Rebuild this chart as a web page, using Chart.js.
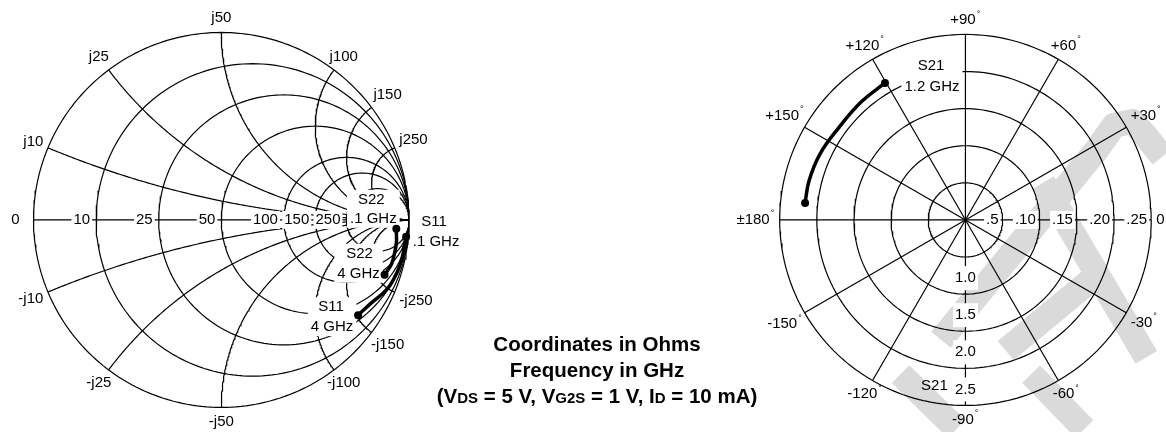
<!DOCTYPE html>
<html>
<head>
<meta charset="utf-8">
<title>S-parameters</title>
<script src="https://cdn.jsdelivr.net/npm/chart.js@4/dist/chart.umd.min.js"></script>
<style>
  body { margin: 0; background: #fff; }
  #wrap { position: relative; width: 1166px; height: 432px; overflow: hidden; background: #fff; }
  #smith { position: absolute; left: 0; top: 0; }
  #polar { position: absolute; left: 700px; top: 0; }
  #note { position: absolute; left: 397px; top: 331px; width: 400px; text-align: center;
          font: bold 20.5px/26px "Liberation Sans", Arial, sans-serif; color: #000; }
  #note span { font-size: 15px; }
</style>
</head>
<body>
<div id="wrap">
  <canvas id="smith" width="480" height="432"></canvas>
  <canvas id="polar" width="466" height="432"></canvas>
  <div id="note">Coordinates in Ohms<br>Frequency in GHz<br>(V<span>DS</span> = 5 V, V<span>G2S</span> = 1 V, I<span>D</span> = 10 mA)</div>
</div>
<script>
const family = '"Liberation Sans", Arial, sans-serif';
Chart.defaults.font.family = family;
Chart.defaults.animation = false;

// smith chart grid, ohms (Z0 = 50)
const z0 = 50;
const resistances = [10, 25, 50, 100, 150, 250];
const reactances = [10, 25, 50, 100, 150, 250];

// S11 / S22 from .1 GHz to 4 GHz : magnitude, angle (deg)
const s11Mag = [0.988, 0.984, 0.984, 0.977, 0.958, 0.912, 0.888];
const s11Ang = [-5.2, -8.3, -11.7, -16.5, -22.5, -29.2, -34.9];
const s22Mag = [0.933, 0.934, 0.940, 0.939, 0.936, 0.917];
const s22Ang = [-2.9, -3.9, -7.3, -11.3, -14.6, -18.6];

// polar chart
const angleTicks = [0, 30, 60, 90, 120, 150, 180, -150, -120, -90, -60, -30];
const s12Labels = ['.5', '.10', '.15', '.20', '.25'];
const s21Rings = [0.5, 1.0, 1.5, 2.0, 2.5];
const s21Labels = ['', '1.0', '1.5', '2.0', '2.5'];

// S21 from .1 GHz to 1.2 GHz
const s21Mag = [2.17, 2.17, 2.15, 2.11, 2.12, 2.14];
const s21Ang = [174, 165.9, 155.6, 144.2, 131.5, 120.4];

const rad = d => d * Math.PI / 180;

function arc(cx, cy, r, a0, a1, n) {
  const pts = [];
  for (let i = 0; i <= n; i++) {
    const a = a0 + (a1 - a0) * i / n;
    pts.push({x: cx + r * Math.cos(a), y: cy + r * Math.sin(a)});
  }
  return pts;
}

function gridLine(data) {
  return {data: data, showLine: true, borderColor: '#000', borderWidth: 1.2,
          pointRadius: 0, tension: 0, fill: false};
}

function trace(label, mag, ang, scale) {
  const n = mag.length;
  return {
    label: label, trace: true,
    data: mag.map((m, i) => ({x: m / scale * Math.cos(rad(ang[i])), y: m / scale * Math.sin(rad(ang[i]))})),
    showLine: true, borderColor: '#000', borderWidth: 3.5, tension: 0.4,
    pointRadius: ctx => (ctx.dataIndex === 0 || ctx.dataIndex === n - 1) ? 4 : 0,
    pointBackgroundColor: '#000', pointBorderWidth: 0
  };
}

function boxText(ctx, txt, x, y, align, padX, halfH) {
  const w = ctx.measureText(txt).width;
  const left = align === 'right' ? x - w : align === 'left' ? x : x - w / 2;
  ctx.fillStyle = '#fff';
  ctx.fillRect(left - padX, y - halfH, w + 2 * padX, 2 * halfH);
  ctx.fillStyle = '#000';
  ctx.textAlign = 'left';
  ctx.fillText(txt, left, y);
}

// two-line note on one white patch, offsets from a trace point
function tagText(ctx, pt, lines) {
  let l = 1e9, r = -1e9;
  lines.forEach(s => {
    const w = ctx.measureText(s[0]).width;
    l = Math.min(l, pt.x + s[1] - w / 2);
    r = Math.max(r, pt.x + s[1] + w / 2);
  });
  const top = pt.y + lines[0][2] - 10, bottom = pt.y + lines[lines.length - 1][2] + 9;
  ctx.fillStyle = '#fff';
  ctx.fillRect(l - 3, top, r - l + 6, bottom - top);
  ctx.fillStyle = '#000';
  ctx.textAlign = 'center';
  lines.forEach(s => ctx.fillText(s[0], pt.x + s[1], pt.y + s[2]));
}

// distance from centre for a label sitting outside the rim
function rimDist(R, w, c, s) {
  const a = Math.abs(c) > 0.01 ? (w / 2) / Math.abs(c) : 1e9;
  const b = Math.abs(s) > 0.01 ? 9 / Math.abs(s) : 1e9;
  return R + 5 + Math.min(a, b);
}

function axes(xmin, xmax, ymin, ymax) {
  return {
    x: {type: 'linear', min: xmin, max: xmax, display: false},
    y: {type: 'linear', min: ymin, max: ymax, display: false}
  };
}

// ---------------- Smith chart ----------------
const smithSets = [trace('S11', s11Mag, s11Ang, 1), trace('S22', s22Mag, s22Ang, 1)];
smithSets.push(gridLine(arc(0, 0, 1, 0, 2 * Math.PI, 240)));
smithSets.push(gridLine([{x: -1, y: 0}, {x: 1, y: 0}]));
resistances.forEach(r => {
  const n = r / z0;
  smithSets.push(gridLine(arc(n / (n + 1), 0, 1 / (n + 1), 0, 2 * Math.PI, 200)));
});
reactances.forEach(x => {
  const n = x / z0;
  const gx = (n * n - 1) / (n * n + 1), gy = 2 * n / (n * n + 1);
  let a0 = Math.atan2(gy - 1 / n, gx - 1);
  if (a0 < 0) a0 += 2 * Math.PI;
  const up = arc(1, 1 / n, 1 / n, a0, 1.5 * Math.PI, 160);
  smithSets.push(gridLine(up));
  smithSets.push(gridLine(up.map(p => ({x: p.x, y: -p.y}))));
});

const smithLabels = {
  id: 'smithLabels',
  beforeDatasetsDraw(chart) { chart.$done = false; },
  beforeDatasetDraw(chart, args) {
    if (chart.$done || !chart.data.datasets[args.index].trace) return;
    chart.$done = true;
    const ctx = chart.ctx, xs = chart.scales.x, ys = chart.scales.y;
    const px = v => xs.getPixelForValue(v), py = v => ys.getPixelForValue(v);
    const cx = px(0), cy = py(0), R = px(1) - px(0);
    ctx.save();
    ctx.font = '15px ' + family;
    ctx.textBaseline = 'middle';
    resistances.forEach(r => {
      const n = r / z0;
      boxText(ctx, String(r), px((n - 1) / (n + 1)) - 6, cy, 'right', 2, 9);
    });
    ctx.textAlign = 'center';
    ctx.fillText('0', px(-1) - 18, cy);
    reactances.forEach(x => {
      const n = x / z0;
      const gx = (n * n - 1) / (n * n + 1), gy = 2 * n / (n * n + 1);
      [1, -1].forEach(s => {
        const txt = (s > 0 ? 'j' : '-j') + x;
        const d = rimDist(R, ctx.measureText(txt).width, gx, gy);
        ctx.textAlign = 'center';
        ctx.fillStyle = '#000';
        ctx.fillText(txt, cx + gx * d, cy - s * gy * d);
      });
    });
    const ends = di => {
      const pts = chart.getDatasetMeta(di).data;
      return [pts[0], pts[pts.length - 1]];
    };
    const s11 = ends(0), s22 = ends(1);
    tagText(ctx, s22[0], [['S22', -25, -29], ['.1 GHz', -23, -10]]);
    tagText(ctx, s22[1], [['S22', -25, -21], ['4 GHz', -26, -1]]);
    tagText(ctx, s11[0], [['S11', 28, -15], ['.1 GHz', 30, 5]]);
    tagText(ctx, s11[1], [['S11', -27, -8], ['4 GHz', -26, 12]]);
    ctx.restore();
  }
};

const sR = 191;
new Chart(document.getElementById('smith'), {
  type: 'scatter',
  data: {datasets: smithSets},
  options: {
    responsive: false, events: [],
    layout: {padding: 0},
    plugins: {legend: {display: false}, tooltip: {enabled: false}},
    scales: axes(-221 / sR, 259 / sR, -212 / sR, 220 / sR)
  },
  plugins: [smithLabels]
});

// ---------------- polar chart ----------------
const s21Max = s21Rings[s21Rings.length - 1];
const polarSets = [trace('S21', s21Mag, s21Ang, s21Max)];
s21Rings.forEach(v => polarSets.push(gridLine(arc(0, 0, v / s21Max, 0, 2 * Math.PI, 200))));
angleTicks.filter(a => a >= 0 && a < 180).forEach(a => {
  const c = Math.cos(rad(a)), s = Math.sin(rad(a));
  polarSets.push(gridLine([{x: -c, y: -s}, {x: c, y: s}]));
});

// faint logo strokes in the background, in chart units
const logo = [
  [[-0.132, -0.646], [0.709, 0.381], [0.80, 0.51], [0.90, 0.53], [0.974, 0.45], [1.06, 0.34]],
  [[0.217, -0.704], [0.698, -0.306]],
  [[0.418, 0.201], [0.974, -0.741]],
  [[-0.349, -0.831], [-0.048, -1.127]],
  [[0.354, -0.831], [0.640, -1.127]]
];

function degLabel(ctx, main, x, y) {
  ctx.font = '15px ' + family;
  const w1 = ctx.measureText(main).width;
  const left = x - (w1 + 5) / 2;
  ctx.fillStyle = '#000';
  ctx.textAlign = 'left';
  ctx.fillText(main, left, y);
  ctx.font = '9px ' + family;
  ctx.fillText('°', left + w1 + 1, y - 6);
  ctx.font = '15px ' + family;
}

const polarLabels = {
  id: 'polarLabels',
  beforeDatasetsDraw(chart) {
    chart.$done = false;
    const ctx = chart.ctx, xs = chart.scales.x, ys = chart.scales.y;
    ctx.save();
    ctx.strokeStyle = '#dadada';
    ctx.lineWidth = 25;
    ctx.lineJoin = 'round';
    logo.forEach(path => {
      ctx.beginPath();
      path.forEach((p, i) => {
        const X = xs.getPixelForValue(p[0]), Y = ys.getPixelForValue(p[1]);
        i ? ctx.lineTo(X, Y) : ctx.moveTo(X, Y);
      });
      ctx.stroke();
    });
    ctx.restore();
  },
  beforeDatasetDraw(chart, args) {
    if (chart.$done || !chart.data.datasets[args.index].trace) return;
    chart.$done = true;
    const ctx = chart.ctx, xs = chart.scales.x, ys = chart.scales.y;
    const px = v => xs.getPixelForValue(v), py = v => ys.getPixelForValue(v);
    const cx = px(0), cy = py(0), R = px(1) - px(0);
    const k = s21Rings.length;
    ctx.save();
    ctx.font = '15px ' + family;
    ctx.textBaseline = 'middle';
    s12Labels.forEach((t, i) => boxText(ctx, t, px((i + 1) / k) - 4, cy, 'right', 2, 9));
    s21Labels.forEach((t, i) => {
      if (t) boxText(ctx, t, cx, py(-(i + 1) / k) - 16, 'center', 2, 12);
    });
    ctx.textAlign = 'center';
    ctx.fillText('S21', cx - 31, py(-1) - 20);
    angleTicks.forEach(a => {
      const main = a === 180 ? '\u00b1180' : a > 0 ? '+' + a : String(a);
      const w = ctx.measureText(main).width + 5;
      const c = Math.cos(rad(a)), s = Math.sin(rad(a));
      const d = rimDist(R, w, c, s);
      degLabel(ctx, main, cx + c * d, cy - s * d);
    });
    const pts = chart.getDatasetMeta(0).data;
    tagText(ctx, pts[pts.length - 1], [['S21', 46, -17], ['1.2 GHz', 47, 4]]);
    ctx.restore();
  }
};

const pR = 189;
new Chart(document.getElementById('polar'), {
  type: 'scatter',
  data: {datasets: polarSets},
  options: {
    responsive: false, events: [],
    layout: {padding: 0},
    plugins: {legend: {display: false}, tooltip: {enabled: false}},
    scales: axes(-266 / pR, 200 / pR, -212 / pR, 220 / pR)
  },
  plugins: [polarLabels]
});
</script>
</body>
</html>
